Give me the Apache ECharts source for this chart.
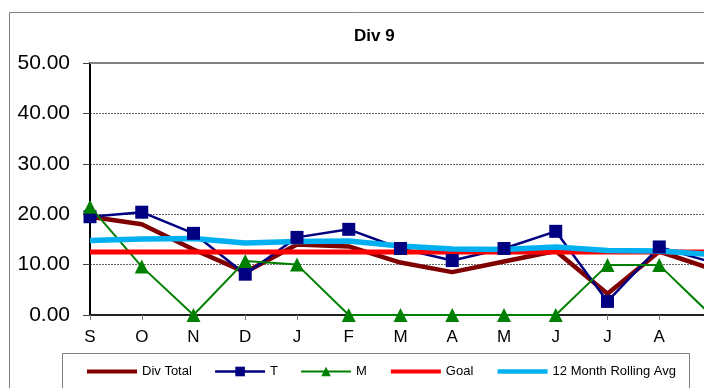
<!DOCTYPE html>
<html>
<head>
<meta charset="utf-8">
<script src="https://cdn.jsdelivr.net/npm/echarts@6/dist/echarts.min.js"></script>
<style>
html,body{margin:0;padding:0;background:#fff;}
#chart{width:704px;height:388px;}
</style>
</head>
<body>
<div id="chart"></div>
<script>
var titleText = 'Div 9';
var categories = ['S','O','N','D','J','F','M','A','M','J','J','A','S'];
var yTicks = [0, 10, 20, 30, 40, 50];
var divTotal = [19.5, 18.0, 13.0, 8.5, 14.0, 13.6, 10.4, 8.5, 10.6, 12.7, 4.2, 12.6, 9.2];
var seriesT  = [19.5, 20.4, 16.2, 8.1, 15.4, 17.0, 13.2, 10.8, 13.2, 16.6, 2.7, 13.5, 10.5];
var seriesM  = [21.5, 9.6, 0, 10.7, 10.0, 0, 0, 0, 0, 0, 9.9, 9.9, 0];
var goal     = [12.5, 12.5, 12.5, 12.5, 12.5, 12.5, 12.5, 12.5, 12.5, 12.5, 12.5, 12.5, 12.5];
var rolling  = [14.8, 15.1, 15.2, 14.3, 14.6, 14.7, 13.7, 13.1, 13.0, 13.5, 12.8, 12.7, 12.0];
var legendNames = ['Div Total', 'T', 'M', 'Goal', '12 Month Rolling Avg'];
var noMarker = {'Div Total': true, 'Goal': true, '12 Month Rolling Avg': true};
var legendLineWidth = {'Div Total': 4, 'T': 2.5, 'M': 2, 'Goal': 4, '12 Month Rolling Avg': 4.5};

var chart = echarts.init(document.getElementById('chart'));
var font = 'Arial, "Liberation Sans", sans-serif';
chart.setOption({
  animation: false,
  textStyle: {fontFamily: font},
  title: {
    text: titleText,
    left: 354, top: 28, padding: 0,
    textStyle: {fontSize: 17, fontWeight: 'bold', color: '#000', fontFamily: font}
  },
  graphic: [
    {type: 'rect', z: -10, shape: {x: 9.5, y: 12.5, width: 800, height: 500}, style: {fill: null, stroke: '#808080', lineWidth: 1}},
    {type: 'rect', z: -10, shape: {x: 62.5, y: 353.5, width: 627, height: 60}, style: {fill: null, stroke: '#808080', lineWidth: 1}},
    {type: 'line', z: 1, shape: {x1: 90, y1: 63, x2: 720, y2: 63}, style: {stroke: '#808080', lineWidth: 2}}
  ],
  legend: {
    data: legendNames.map(function (n) {
      var item = {name: n, lineStyle: {width: legendLineWidth[n]}};
      if (noMarker[n]) { item.itemStyle = {opacity: 0}; }
      return item;
    }),
    left: 85, top: 365, padding: 0,
    itemWidth: 50, itemHeight: 12, itemGap: 22,
    textStyle: {fontSize: 13, color: '#000', fontFamily: font}
  },
  grid: {
    left: 90, top: 63, width: 621, height: 252,
    outerBoundsMode: 'none', containLabel: false,
    show: false
  },
  xAxis: {
    type: 'category',
    data: categories,
    boundaryGap: false,
    axisLine: {lineStyle: {color: '#222', width: 2}},
    axisTick: {show: true, length: 5, lineStyle: {color: '#777'}},
    axisLabel: {color: '#000', fontSize: 17, margin: 14, interval: 0, fontFamily: font},
    splitLine: {show: false}
  },
  yAxis: {
    type: 'value',
    min: yTicks[0], max: yTicks[yTicks.length - 1], interval: 10,
    axisLine: {show: true, lineStyle: {color: '#000', width: 2}},
    axisTick: {show: true, length: 7, lineStyle: {color: '#444'}},
    axisLabel: {color: '#000', fontSize: 21, margin: 20, fontFamily: font,
      formatter: function (v) { return v.toFixed(2); }},
    splitLine: {show: true, lineStyle: {color: '#666', width: 1, type: [2, 1]}}
  },
  series: [
    {name: 'Div Total', type: 'line', data: divTotal, symbol: 'none',
      lineStyle: {color: '#800000', width: 4.5}, itemStyle: {color: '#800000'}},
    {name: 'T', type: 'line', data: seriesT, symbol: 'rect', symbolSize: 13,
      lineStyle: {color: '#000080', width: 2.5}, itemStyle: {color: '#000080'}},
    {name: 'M', type: 'line', data: seriesM, symbol: 'triangle', symbolSize: 14,
      lineStyle: {color: '#008000', width: 2}, itemStyle: {color: '#008000'}},
    {name: 'Goal', type: 'line', data: goal, symbol: 'none',
      lineStyle: {color: '#FF0000', width: 5}, itemStyle: {color: '#FF0000'}},
    {name: '12 Month Rolling Avg', type: 'line', data: rolling, symbol: 'none',
      lineStyle: {color: '#00B0F0', width: 5.5}, itemStyle: {color: '#00B0F0'}}
  ]
});
</script>
</body>
</html>
